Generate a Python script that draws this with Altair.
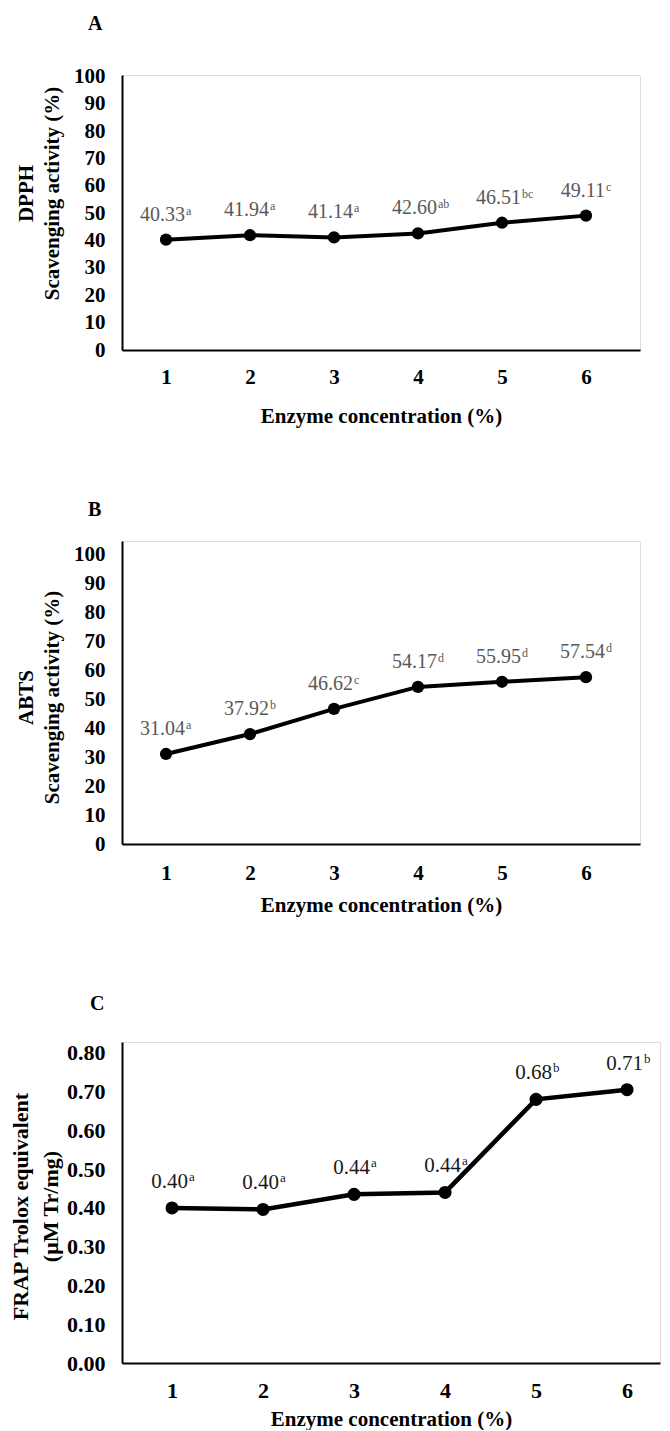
import altair as alt
import pandas as pd

# ---------------- data ----------------
conc = [1, 2, 3, 4, 5, 6]

dpph = [40.33, 41.94, 41.14, 42.60, 46.51, 49.11]
dpph_sup = ["a", "a", "a", "ab", "bc", "c"]

abts = [31.04, 37.92, 46.62, 54.17, 55.95, 57.54]
abts_sup = ["a", "b", "c", "d", "d", "d"]

frap = [0.400, 0.396, 0.435, 0.440, 0.680, 0.705]
frap_text = ["0.40", "0.40", "0.44", "0.44", "0.68", "0.71"]
frap_sup = ["a", "a", "a", "a", "b", "b"]

pct_ticks = [0, 10, 20, 30, 40, 50, 60, 70, 80, 90, 100]
frap_ticks = [0.0, 0.1, 0.2, 0.3, 0.4, 0.5, 0.6, 0.7, 0.8]

x_title = "Enzyme concentration (%)"
SERIF = "Liberation Serif"


def panel(values, texts, sups, letter, ytitle, ydom, yticks, yfmt, xdom, w, h,
          tick_size, ytitle_size, ytitle_lh, title_x, title_y, xtitle_y,
          xlab_pad, lab_color, lab_size, sup_size, num_dx, sup_dx, num_dy,
          sup_dy, title_offset, title_dx, pt_size, line_w):
    df = pd.DataFrame({"conc": conc, "value": values, "text": texts, "sup": sups})
    x = alt.X(
        "conc:Q",
        scale=alt.Scale(domain=xdom, nice=False, zero=False),
        axis=alt.Axis(
            values=conc, tickCount=len(conc), format="d", title=x_title,
            grid=False, ticks=False, tickSize=0, domainColor="black",
            domainWidth=2, labelOverlap=False,
            labelFont=SERIF, labelFontWeight="bold", labelFontSize=tick_size,
            labelColor="black", labelPadding=xlab_pad,
            titleFont=SERIF, titleFontWeight="bold", titleFontSize=21,
            titleColor="black", titleY=xtitle_y, titleBaseline="top",
        ),
    )
    y = alt.Y(
        "value:Q",
        scale=alt.Scale(domain=ydom, nice=False, zero=True),
        axis=alt.Axis(
            values=yticks, tickCount=len(yticks), format=yfmt, title=ytitle,
            grid=False, ticks=False, tickSize=0, domainColor="black",
            domainWidth=2, labelOverlap=False,
            labelFont=SERIF, labelFontWeight="bold", labelFontSize=tick_size,
            labelColor="black", labelPadding=17,
            titleFont=SERIF, titleFontWeight="bold", titleFontSize=ytitle_size,
            titleColor="black", titleLineHeight=ytitle_lh, titleAngle=270,
            titleAlign="center", titleBaseline="bottom",
            titleX=title_x, titleY=title_y,
        ),
    )
    base = alt.Chart(df)
    line = base.mark_line(color="black", strokeWidth=line_w).encode(x=x, y=y)
    pts = base.mark_circle(color="black", opacity=1, size=pt_size).encode(
        x="conc:Q", y="value:Q")
    nums = base.mark_text(
        align="right", baseline="alphabetic", dx=num_dx, dy=num_dy,
        font=SERIF, fontSize=lab_size, color=lab_color,
    ).encode(x="conc:Q", y="value:Q", text="text:N")
    sup = base.mark_text(
        align="left", baseline="alphabetic", dx=sup_dx, dy=sup_dy,
        font=SERIF, fontSize=sup_size, color=lab_color,
    ).encode(x="conc:Q", y="value:Q", text="sup:N")
    return alt.layer(line, pts, nums, sup).properties(
        width=w, height=h,
        title=alt.TitleParams(
            letter, anchor="start", frame="group", dx=title_dx,
            offset=title_offset, font=SERIF, fontSize=20, fontWeight="bold",
            color="black",
        ),
    )


chart_a = panel(
    dpph, [f"{v:.2f}" for v in dpph], dpph_sup, "A",
    ["DPPH", "Scavenging activity (%)"], [0, 100.5], pct_ticks, "d",
    [0.476, 6.643], 518, 275,
    tick_size=21, ytitle_size=21, ytitle_lh=26, title_x=-86, title_y=118,
    xtitle_y=55, xlab_pad=16, lab_color="#595959", lab_size=20, sup_size=12,
    num_dx=19, sup_dx=20, num_dy=-19, sup_dy=-25, title_offset=31,
    title_dx=-34, pt_size=150, line_w=4,
)

chart_b = panel(
    abts, [f"{v:.2f}" for v in abts], abts_sup, "B",
    ["ABTS", "Scavenging activity (%)"], [0, 104.5], pct_ticks, "d",
    [0.476, 6.643], 518, 303,
    tick_size=21, ytitle_size=21, ytitle_lh=26, title_x=-86, title_y=156,
    xtitle_y=50, xlab_pad=18, lab_color="#595959", lab_size=20, sup_size=12,
    num_dx=19, sup_dx=20, num_dy=-19, sup_dy=-25, title_offset=21,
    title_dx=-34, pt_size=150, line_w=4,
)

chart_c = panel(
    frap, frap_text, frap_sup, "C",
    ["FRAP Trolox equivalent", "(μM Tr/mg)"], [0, 0.828], frap_ticks, ".2f",
    [0.45, 6.362], 538, 321,
    tick_size=22, ytitle_size=22, ytitle_lh=30, title_x=-90, title_y=164,
    xtitle_y=45, xlab_pad=17, lab_color="#1a1a1a", lab_size=21, sup_size=13,
    num_dx=16, sup_dx=17, num_dy=-20, sup_dy=-27, title_offset=28,
    title_dx=-32, pt_size=170, line_w=4.5,
)

chart = alt.vconcat(
    chart_a,
    alt.vconcat(chart_b, chart_c, spacing=77),
    spacing=72,
).properties(
    padding={"left": 0, "top": 5, "right": 0, "bottom": 0},
).configure_view(stroke=None).configure(background="white")

chart.save("out.html", embed_options={"renderer": "svg", "actions": False})
